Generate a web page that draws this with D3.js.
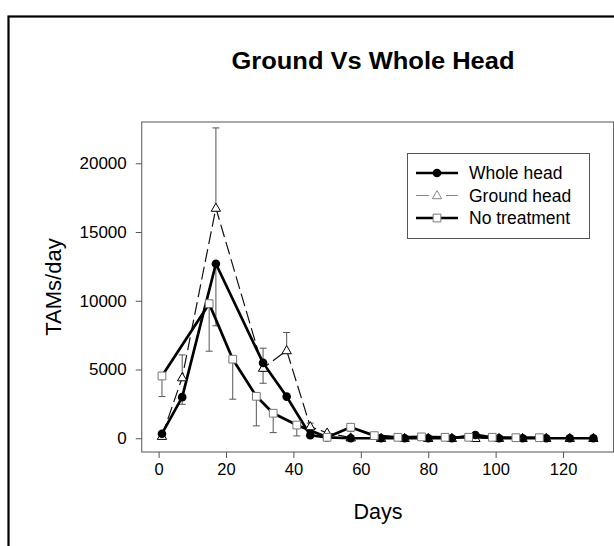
<!DOCTYPE html>
<html>
<head>
<meta charset="utf-8">
<script src="https://cdn.jsdelivr.net/npm/d3@7"></script>
<style>
  body { margin: 0; background: #fff; }
  text { font-family: "Liberation Sans", Arial, sans-serif; fill: #000; }
</style>
</head>
<body>
<script>
// data
const daysHead = [1, 7, 17, 31, 38, 45, 50, 57, 66, 73, 80, 87, 94, 101, 108, 115, 122, 129];
const wholeHead = [330, 2990, 12690, 5480, 3030, 220, 60, 0, 0, 0, 0, 0, 240, 0, 0, 0, 0, 0];
const wholeErr = [100, 520, 4510, 1480, 0, 0, 0, 0, 0, 0, 0, 0, 0, 0, 0, 0, 0, 0];
const groundHead = [150, 4410, 16740, 5100, 6380, 850, 390, 40, 0, 0, 0, 0, 0, 0, 0, 0, 0, 0];
const groundErr = [0, 1650, 5830, 1450, 1310, 250, 0, 0, 0, 0, 0, 0, 0, 0, 0, 0, 0, 0];
const daysNone = [1, 15, 22, 29, 34, 41, 50, 57, 64, 71, 78, 85, 92, 99, 106, 113];
const noTreatment = [4530, 9790, 5750, 3050, 1820, 960, 70, 800, 190, 70, 100, 70, 70, 70, 40, 40];
const noErr = [1500, 3460, 2910, 2150, 1410, 790, 0, 300, 0, 0, 0, 0, 0, 0, 0, 0];
const xTicks = [0, 20, 40, 60, 80, 100, 120];
const yTicks = [0, 5000, 10000, 15000, 20000];
const legendNames = ["Whole head", "Ground head", "No treatment"];

const width = 614, height = 546;

const svg = d3.select("body").append("svg")
    .attr("width", width)
    .attr("height", height);

// outer frame (runs off the right and bottom edge)
svg.append("rect")
    .attr("x", 8.5).attr("y", 16.5)
    .attr("width", 700).attr("height", 600)
    .attr("fill", "none")
    .attr("stroke", "#000")
    .attr("stroke-width", 2.2);

const x = d3.scaleLinear().domain([-5, 135]).range([141.75, 613.6]);
const y = d3.scaleLinear().domain([-1000, 23000]).range([452, 122]);

// plot frame
svg.append("rect")
    .attr("x", x(-5)).attr("y", y(23000))
    .attr("width", x(135) - x(-5)).attr("height", y(-1000) - y(23000))
    .attr("fill", "none")
    .attr("stroke", "#555")
    .attr("stroke-width", 1);

// axes
const xAxis = svg.append("g")
    .attr("transform", "translate(0," + y(-1000) + ")")
    .call(d3.axisBottom(x).tickValues(xTicks).tickSize(6).tickPadding(5));
const yAxis = svg.append("g")
    .attr("transform", "translate(" + x(-5) + ",0)")
    .call(d3.axisLeft(y).tickValues(yTicks).tickSize(6).tickFormat(d3.format("d")).tickPadding(9));

[xAxis, yAxis].forEach(function(g) {
    g.select(".domain").remove();
    g.selectAll(".tick line").attr("stroke", "#555");
    g.selectAll(".tick text").attr("fill", "#000")
        .style("font-family", "'Liberation Sans', Arial, sans-serif");
});
xAxis.selectAll(".tick text").style("font-size", "16.5px").attr("dy", "0.75em");
yAxis.selectAll(".tick text").style("font-size", "17px");

// titles
svg.append("text")
    .attr("x", 373).attr("y", 68.5)
    .attr("text-anchor", "middle")
    .attr("textLength", 283)
    .attr("lengthAdjust", "spacingAndGlyphs")
    .style("font-size", "23px")
    .style("font-weight", "bold")
    .text("Ground Vs Whole Head");

svg.append("text")
    .attr("x", 378).attr("y", 519)
    .attr("text-anchor", "middle")
    .style("font-size", "21.5px")
    .text("Days");

svg.append("text")
    .attr("transform", "translate(61,287) rotate(-90)")
    .attr("text-anchor", "middle")
    .style("font-size", "22px")
    .text("TAMs/day");

// series
const series = [
    { days: daysHead, vals: wholeHead, err: wholeErr, dir: -1 },
    { days: daysHead, vals: groundHead, err: groundErr, dir: 1 },
    { days: daysNone, vals: noTreatment, err: noErr, dir: -1 }
];

// error bars
series.forEach(function(s) {
    const pts = s.days.map(function(d, i) { return { d: d, v: s.vals[i], e: s.err[i] }; })
        .filter(function(p) { return p.e > 0; });
    const g = svg.append("g").attr("stroke", "#555").attr("stroke-width", 1);
    g.selectAll(".bar").data(pts).enter().append("line")
        .attr("x1", function(p) { return x(p.d); })
        .attr("x2", function(p) { return x(p.d); })
        .attr("y1", function(p) { return y(p.v); })
        .attr("y2", function(p) { return y(p.v + s.dir * p.e); });
    g.selectAll(".cap").data(pts).enter().append("line")
        .attr("x1", function(p) { return x(p.d) - 3.5; })
        .attr("x2", function(p) { return x(p.d) + 3.5; })
        .attr("y1", function(p) { return y(p.v + s.dir * p.e); })
        .attr("y2", function(p) { return y(p.v + s.dir * p.e); });
});

function lineFor(s) {
    return d3.line()
        .x(function(d) { return x(d); })
        .y(function(d, i) { return y(s.vals[i]); })(s.days);
}

// ground head dashed line
svg.append("path")
    .attr("d", lineFor(series[1]))
    .attr("fill", "none")
    .attr("stroke", "#111")
    .attr("stroke-width", 1.2)
    .attr("stroke-dasharray", "13,5");

// whole head and no treatment lines
[series[0], series[2]].forEach(function(s) {
    svg.append("path")
        .attr("d", lineFor(s))
        .attr("fill", "none")
        .attr("stroke", "#000")
        .attr("stroke-width", 2.7)
        .attr("stroke-linejoin", "round");
});

const tri = d3.symbol().type(d3.symbolTriangle).size(38);
const sq = d3.symbol().type(d3.symbolSquare).size(60);

// markers
svg.append("g").selectAll("path")
    .data(daysHead)
    .enter().append("path")
    .attr("d", tri)
    .attr("transform", function(d, i) { return "translate(" + x(d) + "," + (y(groundHead[i]) + 0.5) + ")"; })
    .attr("fill", "#fff")
    .attr("stroke", "#000")
    .attr("stroke-width", 1);

svg.append("g").selectAll("circle")
    .data(daysHead)
    .enter().append("circle")
    .attr("cx", function(d) { return x(d); })
    .attr("cy", function(d, i) { return y(wholeHead[i]); })
    .attr("r", 4.3)
    .attr("fill", "#000");

svg.append("g").selectAll("path")
    .data(daysNone)
    .enter().append("path")
    .attr("d", sq)
    .attr("transform", function(d, i) { return "translate(" + x(d) + "," + y(noTreatment[i]) + ")"; })
    .attr("fill", "#fff")
    .attr("stroke", "#777")
    .attr("stroke-width", 1);

// legend
const legend = svg.append("g").attr("transform", "translate(407,153)");
legend.append("rect")
    .attr("x", 0.5).attr("y", 0.5)
    .attr("width", 182).attr("height", 85)
    .attr("fill", "#fff")
    .attr("stroke", "#555");

const rows = legend.selectAll(".row")
    .data(legendNames)
    .enter().append("g")
    .attr("transform", function(d, i) { return "translate(0," + (20 + i * 22.5) + ")"; });

rows.append("line")
    .attr("x1", 9).attr("x2", 51)
    .attr("y1", 0).attr("y2", 0)
    .attr("stroke", function(d, i) { return i === 1 ? "#888" : "#000"; })
    .attr("stroke-width", function(d, i) { return i === 1 ? 1.2 : 2.7; })
    .attr("stroke-dasharray", function(d, i) { return i === 1 ? "13,17,13" : null; });

rows.each(function(d, i) {
    const r = d3.select(this);
    if (i === 0) {
        r.append("circle").attr("cx", 30).attr("cy", 0).attr("r", 4.3).attr("fill", "#000");
    } else if (i === 1) {
        r.append("path").attr("d", tri).attr("transform", "translate(30,0.5)")
            .attr("fill", "#fff").attr("stroke", "#888");
    } else {
        r.append("path").attr("d", sq).attr("transform", "translate(30,0)")
            .attr("fill", "#fff").attr("stroke", "#777");
    }
});

rows.append("text")
    .attr("x", 62).attr("y", 0)
    .attr("dy", "0.35em")
    .style("font-size", "17.5px")
    .text(function(d) { return d; });
</script>
</body>
</html>
